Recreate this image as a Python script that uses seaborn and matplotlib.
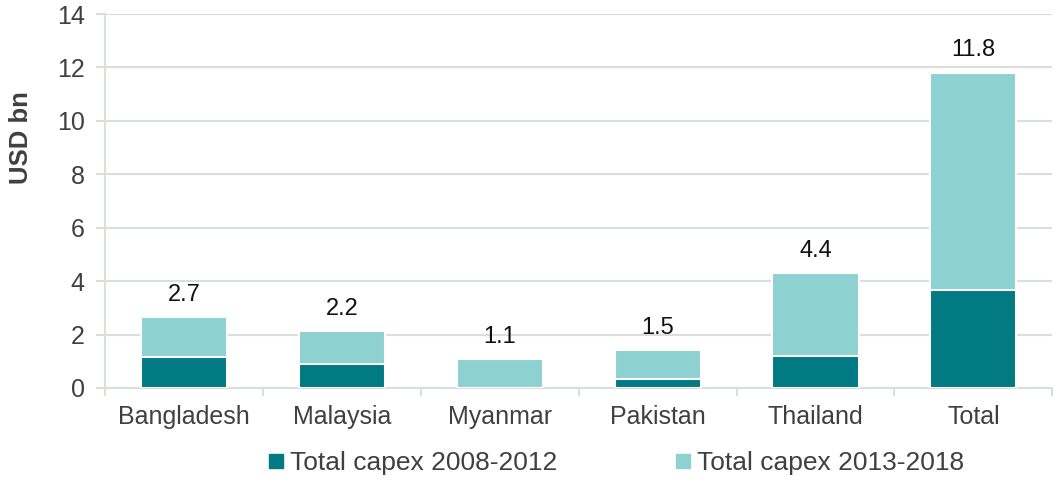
import matplotlib
matplotlib.use('Agg')
import matplotlib.pyplot as plt
import seaborn as sns
import pandas as pd
import numpy as np
from matplotlib.lines import Line2D

# Dados (USD bn)
categorias = ['Bangladesh', 'Malaysia', 'Myanmar', 'Pakistan', 'Thailand', 'Total']
capex_2008_2012 = [1.17, 0.89, 0.0, 0.33, 1.20, 3.67]
capex_2013_2018 = [1.48, 1.24, 1.07, 1.09, 3.09, 8.14]
rotulos_total = ['2.7', '2.2', '1.1', '1.5', '4.4', '11.8']
y_ticks = [0, 2, 4, 6, 8, 10, 12, 14]

COR_ESCURA = '#017A84'
COR_CLARA = '#8ED1D1'
COR_GRADE = '#D8E0D9'
COR_TEXTO = '#404040'

df = pd.DataFrame({
    'pais': categorias,
    'antigo': capex_2008_2012,
    'novo': capex_2013_2018,
})
df['total'] = df['antigo'] + df['novo']

sns.set_style('white')
plt.rcParams['font.family'] = ['Liberation Sans', 'DejaVu Sans']

fig = plt.figure(figsize=(10.55, 4.8), dpi=100)
ax = fig.add_axes([0.0995, 0.1917, 0.898, 0.7791])

# Barras empilhadas: total (claro) por baixo, período antigo (escuro) por cima
sns.barplot(data=df, x='pais', y='total', color=COR_CLARA, width=0.545,
            edgecolor='white', linewidth=1.5, saturation=1, ax=ax, zorder=3)
sns.barplot(data=df, x='pais', y='antigo', color=COR_ESCURA, width=0.545,
            edgecolor='white', linewidth=1.5, saturation=1, ax=ax, zorder=3)

# Rótulos de total
for i, (v, txt) in enumerate(zip(df['total'], rotulos_total)):
    ax.annotate(txt, (i, v), xytext=(0, 8), textcoords='offset points',
                ha='center', va='bottom', fontsize=17, color='#111111')

ax.set_ylim(0, 14)
ax.set_yticks(y_ticks)
ax.set_xlim(-0.5, len(categorias) - 0.5)
ax.grid(True, axis='y', color=COR_GRADE, linewidth=1.5, zorder=0)
ax.set_axisbelow(True)

for lado in ['top', 'right']:
    ax.spines[lado].set_visible(False)
for lado in ['left', 'bottom']:
    ax.spines[lado].set_color(COR_GRADE)
    ax.spines[lado].set_linewidth(1.5)

ax.tick_params(axis='y', length=6.5, width=1.5, color=COR_GRADE, pad=8,
               labelsize=18, labelcolor=COR_TEXTO, left=True)
ax.tick_params(axis='x', which='major', length=0, pad=12,
               labelsize=18, labelcolor=COR_TEXTO)
ax.set_xticks(np.arange(-0.5, len(categorias), 1), minor=True)
ax.tick_params(axis='x', which='minor', length=6, width=1.5, color=COR_GRADE, bottom=True)

ax.set_xlabel('')
ax.set_ylabel('USD bn', fontsize=18.5, fontweight='bold', color=COR_TEXTO)
ax.yaxis.set_label_coords(-0.076, 0.67)

# Legenda
handles = [
    Line2D([], [], marker='s', linestyle='', markersize=10.5, color=COR_ESCURA),
    Line2D([], [], marker='s', linestyle='', markersize=10.5, color=COR_CLARA),
]
fig.legend(handles, ['Total capex 2008-2012', 'Total capex 2013-2018'],
           loc='center', bbox_to_anchor=(0.584, 0.035), ncol=2, frameon=False,
           fontsize=19, labelcolor=COR_TEXTO, handlelength=0.6, handletextpad=0.2,
           columnspacing=4.5)

plt.savefig('out.png', dpi=100)
